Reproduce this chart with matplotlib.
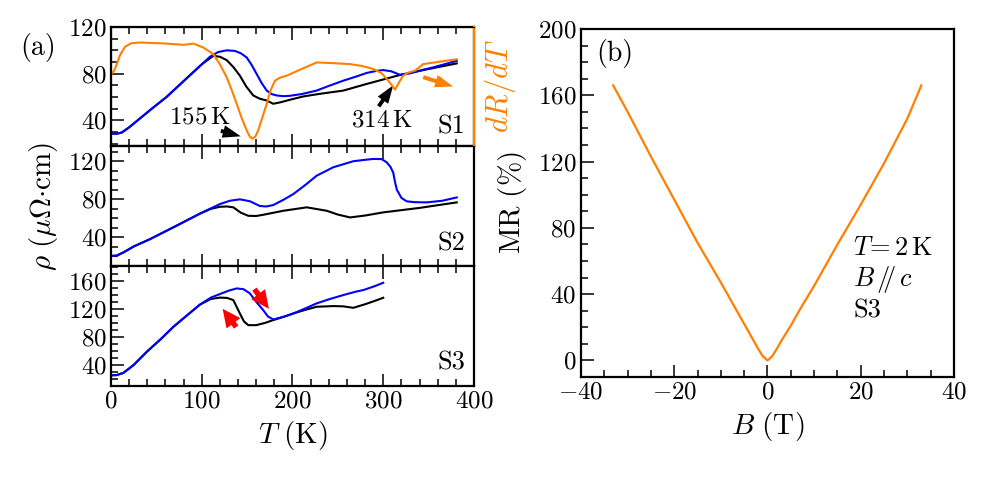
import numpy as np
import matplotlib
matplotlib.use('Agg')
import matplotlib.pyplot as plt
from matplotlib.ticker import MultipleLocator

plt.rcParams['font.family'] = 'serif'
plt.rcParams['font.serif'] = ['cmr10', 'DejaVu Serif']
plt.rcParams['mathtext.fontset'] = 'cm'
plt.rcParams['axes.formatter.use_mathtext'] = True
plt.rcParams['axes.unicode_minus'] = True

BLUE = '#0000ff'
ORANGE = '#ff8000'
RED = '#ff0000'

# ---- data ----
# S1
T_s1_blue = [0.7, 6, 11.8, 20, 30, 45, 61, 85, 100, 109, 118, 127.5, 136.5, 143,
             149.5, 155, 160.5, 166, 171.6, 177, 182.6, 190, 196.7, 210, 226.6, 240,
             256, 270, 281.7, 292, 300, 309, 318.5, 329.5, 342, 355, 368, 381]
rho_s1_blue = [28.7, 28.5, 29.5, 34, 40.4, 50, 59.9, 77.2, 88, 94.5, 98.5, 100, 99.5,
               97.5, 93.9, 87.5, 79.7, 72, 65.5, 62.5, 61.3, 60.7, 61, 62.5, 65.5, 69.5,
               74, 77.5, 80.6, 82.3, 83.1, 82, 79, 80.3, 83, 85.4, 88.2, 91]
T_s1_black = [0.7, 6, 11.8, 20, 30, 45, 61, 85, 100, 112.7, 120, 127.5, 135, 142,
              149, 156.8, 164, 171.6, 178.8, 187, 197, 212, 230, 256, 281.7, 300,
              318.5, 350, 381]
rho_s1_black = [28.7, 28.5, 29.5, 34, 40.4, 50, 59.9, 77.2, 88, 95.3, 94.5, 91.6,
                85.5, 78.3, 69, 61.3, 58.5, 57, 54.2, 55.5, 57.6, 60.5, 62.7, 65.5,
                71.2, 75, 78.9, 84, 88.8]
T_s1_dRdT = [0.7, 3, 6.3, 10, 15.4, 22, 32, 45, 61, 79.7, 90.7, 101.7, 112.7, 120,
             127.5, 133, 138.5, 144, 149.5, 153, 155.7, 159, 162.3, 167, 171.6,
             176, 180.7, 186, 193.6, 210, 226.6, 245, 263.4, 277, 289, 298, 305.6,
             310, 313, 317, 322, 328, 335, 344, 360, 381]
dRdT_s1 = [80, 82, 88, 96, 103, 106, 106.7, 106.3, 105.8, 104.7, 105.8, 102.4, 96.8,
           88, 76.9, 66, 54.2, 42, 31.5, 26, 24.4, 26, 31.5, 43, 54.2, 66, 74, 76.5,
           78.3, 84, 89.6, 89, 88.2, 86.5, 84, 80.5, 74, 69.5, 66.4, 72, 78.3, 81,
           82.6, 88.2, 90, 92.4]

# S2
T_s2_blue = [0.7, 6, 13.6, 25, 43, 72.4, 98, 110, 120, 131, 142, 153, 164, 171,
             178.8, 190, 201, 214, 226.6, 245, 267, 280, 289, 298, 303.8, 308, 311,
             313, 315, 316.6, 320, 325.9, 335, 348, 365, 381]
rho_s2_blue = [20.6, 20.8, 24.2, 30.5, 38.2, 52.4, 65, 70.5, 75, 78.5, 80, 78,
               73, 72.5, 74, 79.5, 85.6, 95, 104.8, 113.7, 120, 121.5, 122.4, 122.3,
               118.9, 114, 108, 98, 90, 87.4, 81.5, 77.9, 77, 76.8, 78.5, 82]
T_s2_black = [0.7, 6, 13.6, 25, 43, 72.4, 98, 110, 120, 128, 134.8, 143, 151.3,
              160, 167.8, 190, 215.6, 237.7, 250, 263.4, 280, 300, 340, 381]
rho_s2_black = [20.6, 20.8, 24.2, 30.5, 38.2, 52.4, 65, 70, 72.2, 72.5, 71.6, 66,
                62.7, 62.5, 63.8, 68, 71.6, 68, 64, 61, 63, 66.3, 71, 76.8]

# S3
T_s3_blue = [0.7, 6, 13.6, 25, 39.3, 55, 68.7, 85, 98, 110, 120, 130, 138.5, 146,
             153, 160, 167.8, 173, 178.8, 190, 201, 214, 226.6, 240, 256, 270, 278,
             290, 300]
rho_s3_blue = [25.3, 25.5, 28.6, 40, 58.6, 77, 94.3, 112, 126, 136, 141, 146, 149,
               148, 142, 130, 118, 109, 104.8, 108.5, 113.4, 120.5, 127.7, 133.5,
               139.6, 144.5, 146.7, 152, 157.1]
T_s3_black = [0.7, 6, 13.6, 25, 39.3, 55, 68.7, 85, 98, 110, 120, 128, 134.8, 138,
              142, 146.5, 151.3, 160, 170, 178.8, 190, 201, 214, 226.6, 245, 256,
              267, 280, 290, 300]
rho_s3_black = [25.3, 25.5, 28.6, 40, 58.6, 77, 94.3, 112, 126, 134, 136, 135.5,
                132.4, 124, 113.4, 102, 96.7, 96.7, 100, 103.9, 108.5, 113.4, 118.5,
                122.9, 123.9, 123.5, 121.4, 126.5, 131, 135.7]

# MR at 2 K, S3
B_field = [-33.1, -30, -25, -20, -15, -10, -7, -5, -3, -2, -1, 0,
           1, 2, 3, 5, 7, 10, 15, 20, 25, 30, 33]
MR = [166, 150, 123, 97, 71, 47, 32, 22, 12, 7, 2.5, 0,
      2.5, 7, 12, 21, 31, 45, 70, 94, 119, 146, 166]

fig = plt.figure(figsize=(9.87, 4.82), dpi=100)

W, H = 987, 482
def rect(x0, y0, x1, y1):
    return [x0 / W, 1 - y1 / H, (x1 - x0) / W, (y1 - y0) / H]

ax1 = fig.add_axes(rect(111, 27, 474, 146))
ax2 = fig.add_axes(rect(111, 146, 474, 266))
ax3 = fig.add_axes(rect(111, 266, 474, 386))
axb = fig.add_axes(rect(581, 29, 954, 377))

def style(ax, top=True):
    ax.tick_params(which='both', direction='in', top=top, right=False,
                   labelsize=18, width=1.1)
    ax.tick_params(which='major', length=9)
    ax.tick_params(which='minor', length=5)
    for s in ax.spines.values():
        s.set_linewidth(1.6)

for ax in (ax1, ax2, ax3):
    style(ax)
    ax.set_xlim(0, 400)
    ax.xaxis.set_major_locator(MultipleLocator(100))
    ax.xaxis.set_minor_locator(MultipleLocator(20))
    ax.yaxis.set_major_locator(MultipleLocator(40))
    ax.yaxis.set_minor_locator(MultipleLocator(10))
    ax.tick_params(axis='y', pad=3)
ax1.tick_params(labelbottom=False)
ax2.tick_params(labelbottom=False)

aw = dict(arrowstyle='simple,head_length=1.0,head_width=0.7,tail_width=0.22',
          color='k', lw=0, shrinkA=0, shrinkB=0, mutation_scale=13)
rw = dict(arrowstyle='simple,head_length=1.0,head_width=0.95,tail_width=0.3',
          color=RED, lw=0, shrinkA=0, shrinkB=0, mutation_scale=13)

# S1
ax1.set_ylim(18, 120)
ax1.plot(T_s1_black, rho_s1_black, color='k', lw=1.5)
ax1.plot(T_s1_blue, rho_s1_blue, color=BLUE, lw=1.5)
ax1t = ax1.twinx()
ax1t.set_ylim(18, 120)
ax1t.plot(T_s1_dRdT, dRdT_s1, color=ORANGE, lw=1.5)
ax1t.set_yticks([])
ax1t.spines['right'].set_color(ORANGE)
ax1t.spines['right'].set_linewidth(1.6)
ax1t.set_ylabel(r'$dR/dT$', color=ORANGE, fontsize=22, labelpad=6)
ax1.text(0.975, 0.06, 'S1', transform=ax1.transAxes, ha='right', va='bottom', fontsize=19)
ax1.text(98, 42.5, r'$155\,\mathrm{K}$', ha='center', va='center', fontsize=18)
ax1.text(298, 40, r'$314\,\mathrm{K}$', ha='center', va='center', fontsize=18)
ax1.annotate('', xy=(143, 26.3), xytext=(121, 31), arrowprops=aw)
ax1.annotate('', xy=(311, 70), xytext=(295, 52), arrowprops=aw)
ax1t.annotate('', xy=(377, 69), xytext=(344, 77),
              arrowprops=dict(aw, color=ORANGE))

# S2
ax2.set_ylim(10, 136)
ax2.plot(T_s2_black, rho_s2_black, color='k', lw=1.5)
ax2.plot(T_s2_blue, rho_s2_blue, color=BLUE, lw=1.5)
ax2.text(0.975, 0.09, 'S2', transform=ax2.transAxes, ha='right', va='bottom', fontsize=19)
ax2.set_ylabel(r'$\rho\ (\mu\Omega{\cdot}\mathrm{cm})$', fontsize=21, labelpad=6)

# S3
ax3.set_ylim(10, 181)
ax3.plot(T_s3_black, rho_s3_black, color='k', lw=1.5)
ax3.plot(T_s3_blue, rho_s3_blue, color=BLUE, lw=1.5)
ax3.text(0.975, 0.1, 'S3', transform=ax3.transAxes, ha='right', va='bottom', fontsize=19)
ax3.annotate('', xy=(174, 120), xytext=(158, 148), arrowprops=rw)
ax3.annotate('', xy=(123, 120), xytext=(138, 94), arrowprops=rw)
ax3.set_xlabel(r'$T\ (\mathrm{K})$', fontsize=21, labelpad=4)

fig.text(38 / W, 1 - 47 / H, '(a)', ha='center', va='center', fontsize=20)

# panel (b)
style(axb, top=False)
axb.plot(B_field, MR, color=ORANGE, lw=1.6)
axb.set_xlim(-40, 40)
axb.set_ylim(-10, 200)
axb.xaxis.set_major_locator(MultipleLocator(20))
axb.xaxis.set_minor_locator(MultipleLocator(5))
axb.yaxis.set_major_locator(MultipleLocator(40))
axb.yaxis.set_minor_locator(MultipleLocator(10))
axb.set_xlabel(r'$B\ (\mathrm{T})$', fontsize=21, labelpad=4)
axb.set_ylabel(r'$\mathrm{MR}\ (\%)$', fontsize=21, labelpad=6)
axb.text(0.04, 0.93, '(b)', transform=axb.transAxes, ha='left', va='center', fontsize=20)
axb.text(0.73, 0.37, r'$T\!=2\,\mathrm{K}$', transform=axb.transAxes, ha='left', va='center', fontsize=19)
axb.text(0.73, 0.28, r'$B\,/\!\!/\,c$', transform=axb.transAxes, ha='left', va='center', fontsize=19)
axb.text(0.73, 0.19, 'S3', transform=axb.transAxes, ha='left', va='center', fontsize=19)

fig.savefig('out.png', dpi=100)
